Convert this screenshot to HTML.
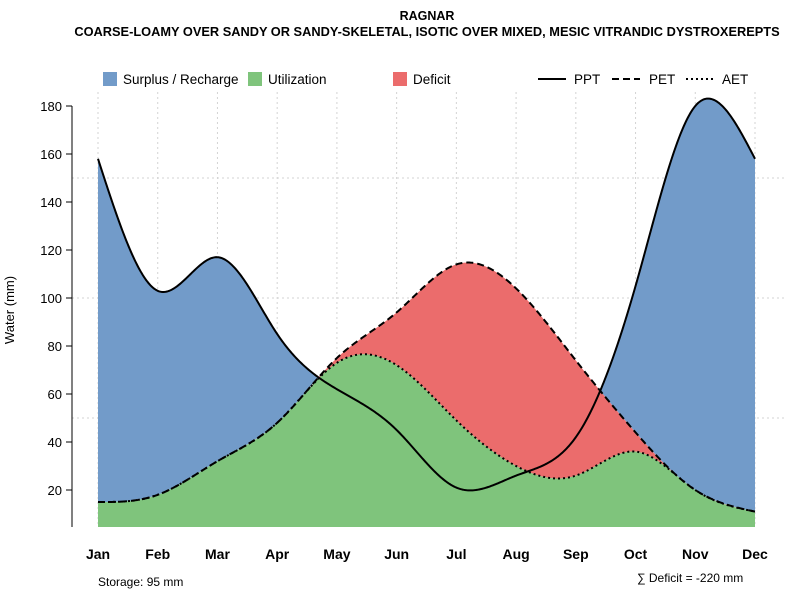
<!DOCTYPE html>
<html><head><meta charset="utf-8"><style>body{margin:0;background:#fff}svg{display:block;font-family:"Liberation Sans",sans-serif}</style></head>
<body>
<svg id="c" width="800" height="600">
<text x="427" y="20" text-anchor="middle" font-size="12.5" font-weight="bold">RAGNAR</text>
<text x="427" y="36" text-anchor="middle" font-size="12.8" font-weight="bold">COARSE-LOAMY OVER SANDY OR SANDY-SKELETAL, ISOTIC OVER MIXED, MESIC VITRANDIC DYSTROXEREPTS</text>
<g id="grid"></g>
<g id="areas"></g>
<g id="lines"></g>
<g id="axes"></g>
<g font-size="13.5">
<rect x="103" y="72" width="14" height="14" fill="#729bc9"/><text x="123" y="84">Surplus / Recharge</text>
<rect x="248" y="72" width="14" height="14" fill="#7fc47c"/><text x="268" y="84">Utilization</text>
<rect x="393" y="72" width="14" height="14" fill="#eb6c6c"/><text x="413" y="84">Deficit</text>
<line x1="538" y1="79" x2="566" y2="79" stroke="#000" stroke-width="2"/><text x="574" y="84">PPT</text>
<line x1="612" y1="79" x2="640" y2="79" stroke="#000" stroke-width="2" stroke-dasharray="7,4"/><text x="649" y="84">PET</text>
<line x1="686" y1="79" x2="714" y2="79" stroke="#000" stroke-width="2" stroke-dasharray="2,3"/><text x="722" y="84">AET</text>
</g>
<text x="98" y="586" font-size="12">Storage: 95 mm</text>
<text x="637" y="582" font-size="12">∑ Deficit = -220 mm</text>
<text transform="translate(14,310) rotate(-90)" text-anchor="middle" font-size="13">Water (mm)</text>
</svg>
<script>
const months=["Jan","Feb","Mar","Apr","May","Jun","Jul","Aug","Sep","Oct","Nov","Dec"];
const ppt=[158,103,117,85,62,45,21,26,42,105,180,158];
const pet=[15,18,32,48,75,94,114,104,74,44,20,11];
const aet=[15,18,32,48,73,72,49,30,26,36,20,11];
const yTicks=[20,40,60,80,100,120,140,160,180];
const NS="http://www.w3.org/2000/svg";
const X=i=>98+i*(755-98)/11, Y=v=>538-v*2.4, YB=527;
function mk(t,a,p){const e=document.createElementNS(NS,t);for(const k in a)e.setAttribute(k,a[k]);p.appendChild(e);return e;}
function spline(ys){const n=ys.length,m=new Array(n).fill(0);
 const a=new Array(n).fill(0),b=new Array(n).fill(0);
 for(let i=1;i<n-1;i++){const r=6*(ys[i+1]-2*ys[i]+ys[i-1]);const d=4-a[i-1];a[i]=1/d;b[i]=(r-b[i-1])/d;}
 for(let i=n-2;i>0;i--)m[i]=b[i]-a[i]*m[i+1];
 return t=>{let i=Math.min(Math.floor(t),n-2);const u=t-i,w=1-u;
  return w*ys[i]+u*ys[i+1]+((w*w*w-w)*m[i]+(u*u*u-u)*m[i+1])/6;};}
const fP=spline(ppt),fE=spline(pet),fA=spline(aet);
const N=600,T=[];for(let k=0;k<=N;k++)T.push(11*k/N);
const g=document.getElementById('grid'),ar=document.getElementById('areas'),ln=document.getElementById('lines'),ax=document.getElementById('axes');
months.forEach((m,i)=>{const l=mk('line',{x1:X(i),x2:X(i),y1:92,y2:YB,stroke:'#d3d3d3','stroke-dasharray':'2,3'},g);
 });
[50,100,150].forEach(v=>{const l=mk('line',{x1:72,x2:785,y1:Y(v),y2:Y(v),stroke:'#d3d3d3','stroke-dasharray':'2,3'},g);
 });
function poly(top,bot,fill,name){let pts=T.map(t=>X(t)+','+Y(top(t)));for(let k=T.length-1;k>=0;k--)pts.push(X(T[k])+','+(bot?Y(bot(T[k])):YB));
 const p=mk('polygon',{points:pts.join(' '),fill:fill},ar);}
poly(t=>Math.max(fP(t),fE(t)),fE,'#729bc9','surplus-area');
poly(fE,fA,'#eb6c6c','deficit-area');
poly(fA,null,'#7fc47c','utilization-area');
function line(f,dash,name){const p=mk('polyline',{points:T.map(t=>X(t)+','+Y(f(t))).join(' '),fill:'none',stroke:'#000','stroke-width':2,'stroke-dasharray':dash},ln);
 }
line(fP,'none','ppt-line');line(fE,'7,4','pet-line');line(fA,'2,3','aet-line');
const ya=mk('line',{x1:72,x2:72,y1:Y(180),y2:YB,stroke:'#000'},ax);
yTicks.forEach(v=>{const t=mk('line',{x1:66,x2:72,y1:Y(v),y2:Y(v),stroke:'#000'},ax);
 const s=mk('text',{x:62,y:Y(v)+5,'text-anchor':'end','font-size':13},ax);s.textContent=v;});
months.forEach((m,i)=>{const s=mk('text',{x:X(i),y:559,'text-anchor':'middle','font-size':14,'font-weight':'bold'},ax);s.textContent=m;
 });
</script>
</body></html>
